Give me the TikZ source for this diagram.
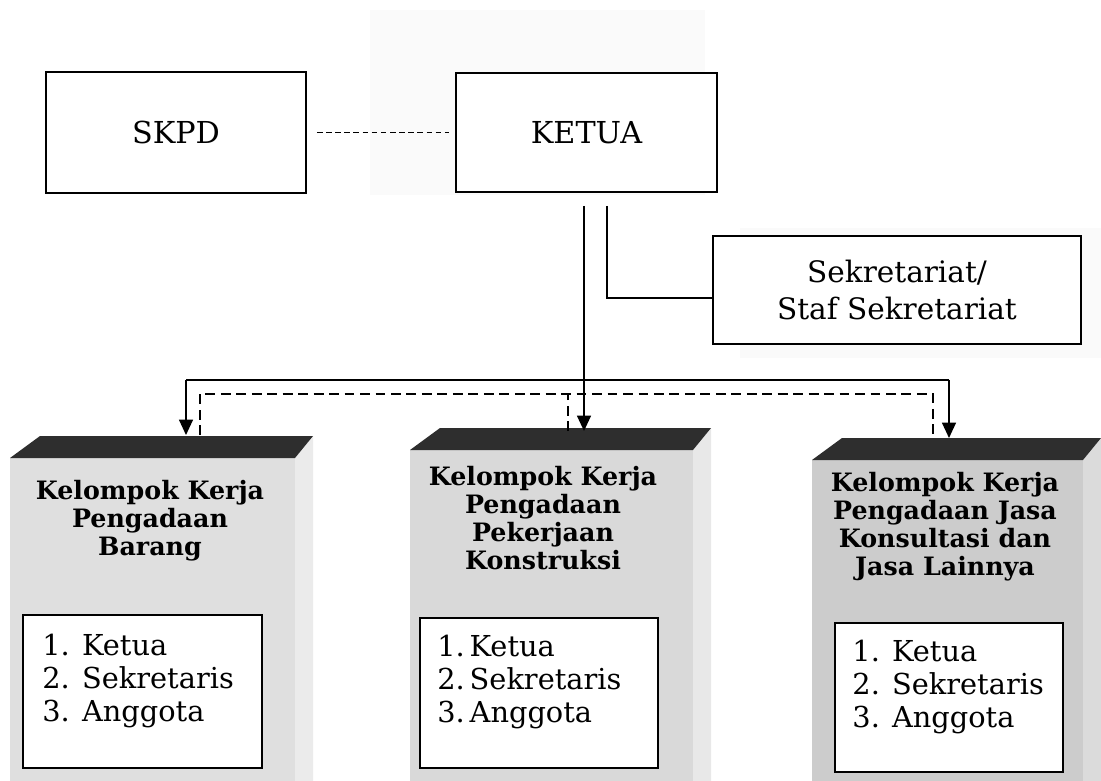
\documentclass[tikz,border=0pt]{standalone}
\usepackage{fontspec}
\setmainfont{DejaVu Serif}
\usetikzlibrary{arrows.meta}
\tikzset{kotak/.style={draw, line width=1.2pt, fill=white, inner sep=0pt, align=center, font=\fontsize{21.5}{30}\selectfont},
  garis/.style={line width=1pt},
  putus/.style={line width=1pt, dash pattern=on 7pt off 4pt},
  putuskecil/.style={line width=1pt, dash pattern=on 4pt off 2.5pt},
  panah/.style={garis, -{Triangle[length=11pt,width=10pt]}},
  judul/.style={align=center, inner sep=0pt, font=\bfseries\fontsize{18}{20}\selectfont},
  daftar/.style={draw, line width=1.2pt, fill=white, inner sep=0pt},
  isian/.style={anchor=north west, align=left, inner sep=0pt, font=\fontsize{20.5}{23.5}\selectfont}}
% prisma kelompok kerja: kiri, kanan, atas depan, warna depan, warna sisi
\newcommand{\balok}[5]{%
  \fill[#5] (#2,#3) -- ++(18,-22) -- (#2+18,781) -- (#2,781) -- cycle;
  \fill[#4] (#1,#3) rectangle (#2,781);
  \fill[black!82] (#1,#3) -- ++(30,-22) -- (#2+18,#3-22) -- (#2,#3) -- cycle;
}

\begin{document}
\begin{tikzpicture}[x=0.025cm, y=-0.025cm]
  \useasboundingbox (0,0) rectangle (1101,781);
  % bercak pindaian
  \fill[gray!4] (370,10) rectangle (705,195);
  \fill[gray!4] (740,228) rectangle (1101,358);

  \node[kotak, minimum width=6.5cm, minimum height=3.03cm] (skpd) at (176,132.5) {SKPD};
  \node[kotak, minimum width=6.52cm, minimum height=2.98cm] (ketua) at (586.5,132.5) {KETUA};
  \node[kotak, minimum width=9.2cm, minimum height=2.7cm, font=\fontsize{21}{27}\selectfont] (sekr) at (897,290) {Sekretariat/\\Staf Sekretariat};
  \draw[putuskecil, shorten <=0.25cm, shorten >=0.15cm] (skpd.east) -- (ketua.west);

  \balok{10}{295}{458}{gray!25}{gray!16}
  \balok{410}{693}{450}{gray!30}{gray!18}
  \balok{812}{1083}{460}{gray!40}{gray!28}

  \coordinate (k1) at (584,206);
  \coordinate (k2) at (607,206);
  \coordinate (bus) at (0,380);
  \coordinate (busputus) at (0,394);
  \coordinate (t1) at (186,435);
  \coordinate (t2) at (584,431);
  \coordinate (t3) at (949,438);
  \coordinate (d1) at (200,435);
  \coordinate (d2) at (568,431);
  \coordinate (d3) at (933,438);

  \draw[garis] (k2) |- ([yshift=-0.2cm]sekr.west);
  \draw[garis] (t1 |- bus) -- (t3 |- bus);
  \draw[panah] (t1 |- bus) -- (t1);
  \draw[panah] (t3 |- bus) -- (t3);
  \draw[panah] (k1) -- (t2);
  \draw[putus] (d1) |- (d3 |- busputus) -- (d3);
  \draw[putus] (d2) -- (d2 |- busputus);

  \node[judul] (j1) at (150,521) {Kelompok Kerja\\Pengadaan\\Barang};
  \node[judul] (j2) at (543,518) {Kelompok Kerja\\Pengadaan\\Pekerjaan\\Konstruksi};
  \node[judul] (j3) at (945,527) {Kelompok Kerja\\Pengadaan Jasa\\Konsultasi dan\\Jasa Lainnya};

  \node[daftar, minimum width=5.975cm, minimum height=3.825cm] (l1) at (142.5,691.5) {};
  \node[daftar, minimum width=5.95cm, minimum height=3.75cm] (l2) at (539,693) {};
  \node[daftar, minimum width=5.7cm, minimum height=3.725cm] (l3) at (949,697.5) {};
  \node[isian] (i1) at ([xshift=0.5cm, yshift=-0.5cm]l1.north west) {1. Ketua\\2. Sekretaris\\3. Anggota};
  \node[isian] (i2) at ([xshift=0.45cm, yshift=-0.45cm]l2.north west) {1.\,Ketua\\2.\,Sekretaris\\3.\,Anggota};
  \node[isian] (i3) at ([xshift=0.45cm, yshift=-0.45cm]l3.north west) {1. Ketua\\2. Sekretaris\\3. Anggota};
\end{tikzpicture}
\end{document}
